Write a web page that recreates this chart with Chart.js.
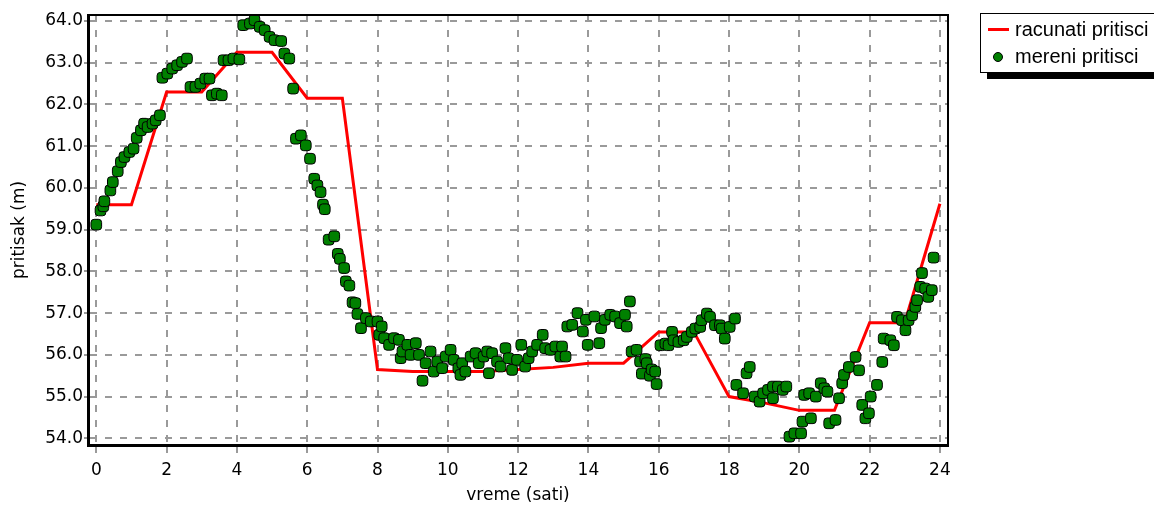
<!DOCTYPE html>
<html>
<head>
<meta charset="utf-8">
<script src="https://cdn.jsdelivr.net/npm/chart.js@4.4.1/dist/chart.umd.min.js"></script>
<style>
  html, body { margin: 0; padding: 0; background: #fff; overflow: hidden; }
  #wrap { position: relative; width: 1154px; height: 506px; }
  #legend {
    position: absolute; left: 980px; top: 13px; width: 210px; height: 58px;
    border: 1px solid #000; background: #fff; box-shadow: 7px 6px 0 #000;
    font-family: "Liberation Sans", Arial, sans-serif; font-size: 20px; color: #000;
  }
  .row { position: absolute; left: 34px; height: 22px; line-height: 22px; white-space: nowrap; }
  .swatch-line { position: absolute; left: 7px; width: 21px; height: 3px; background: #ff0000; }
  .swatch-dot { position: absolute; left: 12px; width: 8px; height: 8px; border-radius: 50%; background: #008000; border: 1px solid #000; }
</style>
</head>
<body>
<div id="wrap">
  <canvas id="chart" width="1154" height="506"></canvas>
  <div id="legend">
    <div class="swatch-line" style="top: 14px;"></div>
    <div class="row" style="top: 4px;">racunati pritisci</div>
    <div class="swatch-dot" style="top: 38px;"></div>
    <div class="row" style="top: 31px;">mereni pritisci</div>
  </div>
</div>
<script>
// racunati pritisci (sat -> m)
const calcHours = [0, 1, 2, 3, 4, 5, 6, 7, 8, 9, 10, 11, 12, 13, 14, 15, 16, 17, 18, 19, 20, 21, 22, 23, 24];
const calcValues = [59.6, 59.6, 62.3, 62.3, 63.25, 63.25, 62.15, 62.15, 55.65, 55.6, 55.6, 55.6, 55.65, 55.7, 55.8, 55.8,
  56.55, 56.55, 55.0, 54.85, 54.67, 54.67, 56.77, 56.77, 59.62];

// mereni pritisci
const measHours = [
  0.00, 0.12, 0.20, 0.23, 0.40, 0.47, 0.61, 0.70, 0.80, 0.94, 1.06, 1.15, 1.27, 1.36, 1.46, 1.60, 1.69, 1.81,
  1.88, 2.02, 2.16, 2.30, 2.44, 2.58, 2.68, 2.82, 2.96, 3.10, 3.22, 3.29, 3.43, 3.57, 3.62, 3.76, 3.90, 4.07,
  4.18, 4.37, 4.50, 4.65, 4.79, 4.93, 5.07, 5.26, 5.35, 5.49, 5.60, 5.68, 5.82, 5.96, 6.08, 6.20, 6.29, 6.38,
  6.45, 6.50, 6.61, 6.77, 6.87, 6.93, 7.05, 7.10, 7.20, 7.29, 7.37, 7.43, 7.53, 7.67, 7.81, 8.00, 8.05, 8.12,
  8.19, 8.33, 8.47, 8.61, 8.66, 8.71, 8.85, 8.94, 9.09, 9.18, 9.28, 9.37, 9.51, 9.60, 9.70, 9.84, 9.94, 10.08,
  10.17, 10.30, 10.36, 10.41, 10.50, 10.65, 10.79, 10.88, 11.02, 11.12, 11.17, 11.26, 11.40, 11.50, 11.64, 11.73,
  11.83, 11.97, 12.09, 12.20, 12.30, 12.40, 12.54, 12.70, 12.77, 12.92, 13.06, 13.20, 13.25, 13.35, 13.40, 13.54,
  13.69, 13.84, 13.93, 13.98, 14.17, 14.31, 14.36, 14.47, 14.62, 14.76, 14.90, 15.04, 15.09, 15.18, 15.23, 15.37,
  15.47, 15.52, 15.62, 15.66, 15.75, 15.80, 15.90, 15.94, 16.05, 16.19, 16.28, 16.38, 16.42, 16.56, 16.71, 16.80,
  16.94, 17.04, 17.18, 17.22, 17.37, 17.46, 17.60, 17.74, 17.79, 17.88, 18.02, 18.17, 18.21, 18.40, 18.50, 18.59,
  18.73, 18.87, 18.97, 19.11, 19.25, 19.25, 19.39, 19.53, 19.63, 19.72, 19.86, 20.05, 20.09, 20.14, 20.28, 20.33,
  20.47, 20.61, 20.71, 20.80, 20.85, 21.03, 21.13, 21.22, 21.27, 21.41, 21.60, 21.70, 21.79, 21.88, 21.98, 22.03,
  22.21, 22.36, 22.40, 22.59, 22.69, 22.78, 22.92, 23.02, 23.11, 23.21, 23.30, 23.35, 23.44, 23.49, 23.58, 23.67,
  23.77, 23.82
];
const measValues = [
  59.12, 59.46, 59.56, 59.68, 59.94, 60.14, 60.40, 60.62, 60.74, 60.86, 60.94, 61.20, 61.38, 61.54, 61.46, 61.54, 61.62, 61.74,
  62.64, 62.74, 62.86, 62.94, 63.02, 63.10, 62.42, 62.42, 62.50, 62.62, 62.62, 62.22, 62.26, 62.22, 63.06, 63.06, 63.10, 63.08,
  63.90, 63.94, 64.02, 63.86, 63.78, 63.62, 63.54, 63.52, 63.22, 63.10, 62.38, 61.18, 61.26, 61.02, 60.70, 60.22, 60.06, 59.90,
  59.60, 59.49, 58.76, 58.84, 58.42, 58.30, 58.08, 57.76, 57.66, 57.26, 57.24, 56.98, 56.64, 56.88, 56.80, 56.80, 56.48, 56.68,
  56.40, 56.24, 56.40, 56.36, 55.92, 56.08, 56.24, 56.00, 56.28, 56.00, 55.38, 55.80, 56.08, 55.60, 55.84, 55.68, 55.96, 56.12,
  55.88, 55.68, 55.52, 55.80, 55.60, 55.96, 56.04, 55.80, 55.96, 56.08, 55.56, 56.04, 55.84, 55.72, 56.16, 55.92,
  55.64, 55.88, 56.24, 55.72, 55.92, 56.08, 56.24, 56.48, 56.16, 56.12, 56.20, 55.96, 56.20, 55.96, 56.68, 56.72,
  57.00, 56.56, 56.84, 56.24, 56.92, 56.28, 56.64, 56.84, 56.96, 56.92, 56.76, 56.96, 56.68, 57.28, 56.08, 56.12,
  55.84, 55.55, 55.90, 55.80, 55.50, 55.65, 55.60, 55.30, 56.23, 56.27, 56.23, 56.55, 56.35, 56.31, 56.35, 56.43,
  56.55, 56.63, 56.67, 56.83, 56.99, 56.91, 56.71, 56.71, 56.63, 56.39, 56.67, 56.87, 55.28, 55.08, 55.56, 55.71,
  55.00, 54.88, 55.08, 55.16, 55.24, 54.96, 55.24, 55.16, 55.24, 54.04, 54.12, 54.12, 54.40, 55.04, 55.08, 54.48,
  55.00, 55.32, 55.20, 55.12, 54.36, 54.44, 54.96, 55.32, 55.52, 55.71, 55.95, 55.63, 54.80, 54.48, 54.60, 55.00,
  55.28, 55.83, 56.39, 56.35, 56.23, 56.91, 56.83, 56.59, 56.83, 56.95, 57.15, 57.31, 57.63, 57.96, 57.59, 57.39,
  57.55, 58.33
];

const xTicks = [0, 2, 4, 6, 8, 10, 12, 14, 16, 18, 20, 22, 24];
const yTicks = [54, 55, 56, 57, 58, 59, 60, 61, 62, 63, 64];

const tickFont = { family: 'DejaVu Sans', size: 17 };
const titleFont = { family: 'DejaVu Sans', size: 17 };
const gridStyle = { color: '#9a9a9a', lineWidth: 2, tickColor: '#9a9a9a' };

// top and right edge of the plot frame
const framePlugin = {
  id: 'frame',
  afterDraw(chart) {
    const { ctx, chartArea: a } = chart;
    ctx.save();
    ctx.strokeStyle = '#000';
    ctx.lineWidth = 2;
    ctx.beginPath();
    ctx.moveTo(a.left, a.top);
    ctx.lineTo(a.right, a.top);
    ctx.lineTo(a.right, a.bottom);
    ctx.stroke();
    ctx.restore();
  }
};

new Chart(document.getElementById('chart'), {
  type: 'scatter',
  data: {
    datasets: [
      {
        label: 'mereni pritisci',
        data: measHours.map((h, i) => ({ x: h, y: measValues[i] })),
        pointStyle: 'rectRounded',
        pointRadius: 6.2,
        backgroundColor: '#008000',
        borderColor: '#000',
        borderWidth: 1,
        order: 0
      },
      {
        type: 'line',
        label: 'racunati pritisci',
        data: calcHours.map((h, i) => ({ x: h, y: calcValues[i] })),
        borderColor: '#ff0000',
        borderWidth: 3,
        pointRadius: 0,
        tension: 0,
        fill: false,
        order: 1
      }
    ]
  },
  options: {
    responsive: false,
    animation: false,
    events: [],
    layout: { padding: { top: 15, right: 206, left: 0, bottom: 0 } },
    plugins: { legend: { display: false }, tooltip: { enabled: false } },
    scales: {
      x: {
        type: 'linear',
        min: -0.236,
        max: 24.23,
        afterBuildTicks: s => { s.ticks = xTicks.map(v => ({ value: v })); },
        afterFit: s => { s.height = 61; },
        grid: { ...gridStyle, tickLength: 8 },
        border: { display: true, color: '#000', width: 3, dash: [7, 8] },
        ticks: { font: tickFont, color: '#000', padding: 7, maxRotation: 0, autoSkip: false },
        title: { display: true, text: 'vreme (sati)', font: titleFont, color: '#000', padding: { top: 0, bottom: 0 } }
      },
      y: {
        min: 53.84,
        max: 64.144,
        afterBuildTicks: s => { s.ticks = yTicks.map(v => ({ value: v })); },
        afterFit: s => { s.width = 88; },
        grid: { ...gridStyle, tickLength: 4 },
        border: { display: true, color: '#000', width: 3, dash: [7, 8] },
        ticks: { font: tickFont, color: '#000', padding: 1, autoSkip: false, callback: v => v.toFixed(1) },
        title: { display: true, text: 'pritisak (m)', font: titleFont, color: '#000', padding: { top: 9, bottom: 0 } }
      }
    }
  },
  plugins: [framePlugin]
});
</script>
</body>
</html>
